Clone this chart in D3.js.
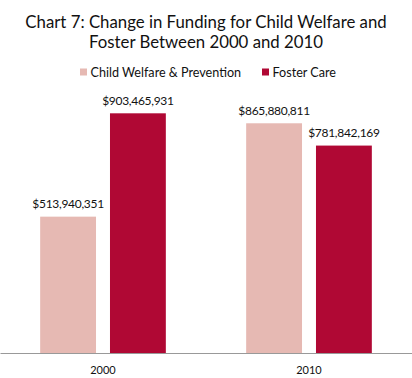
<!DOCTYPE html>
<html><head><meta charset="utf-8">
<script src="https://cdn.jsdelivr.net/npm/d3@7"></script>
<style>body{margin:0;background:#fff}svg{display:block}text{font-family:"Futura","Century Gothic",Lato,sans-serif;fill:#111}</style>
</head><body><svg id="c" width="412" height="378"></svg>
<script>
const years = ["2000", "2010"];
const seriesNames = ["Child Welfare & Prevention", "Foster Care"];
const childWelfare = [513940351, 865880811];
const fosterCare = [903465931, 781842169];
const colors = ["#e6b9b3", "#b00834"];
const titleLines = ["Chart 7: Change in Funding for Child Welfare and", "Foster Between 2000 and 2010"];

const W = 412, H = 378, baseY = 353;
const svg = d3.select("#c");
const values = [childWelfare, fosterCare];
const x0 = d3.scaleBand().domain(years).range([0, W]).paddingInner(0.39).paddingOuter(0.195);
const x1 = d3.scaleBand().domain(seriesNames).range([0, x0.bandwidth()]).paddingInner(0.2).paddingOuter(0);
const y = d3.scaleLinear().domain([0, 1e9]).range([baseY, baseY - 265.3]);

svg.selectAll("text.title").data(titleLines).join("text").attr("class","title")
  .attr("x", W/2).attr("y", (d,i)=>28+i*19.5).attr("text-anchor","middle")
  .style("font-size","16.8px").text(d=>d);

// legend
const leg = svg.append("g");
const legX = [80, 262];
seriesNames.forEach((s,i)=>{
  leg.append("rect").attr("x",legX[i]).attr("y",68.5).attr("width",7).attr("height",7).attr("fill",colors[i]);
  leg.append("text").attr("x",legX[i]+10.5).attr("y",76.5).style("font-size","12.6px").text(s);
});

const g = svg.selectAll("g.grp").data(years).join("g").attr("class","grp")
  .attr("transform", d=>`translate(${x0(d)},0)`);
g.selectAll("rect").data((d,i)=>seriesNames.map((s,j)=>({s, v: values[j][i], j})))
  .join("rect").attr("x", d=>x1(d.s)).attr("width", x1.bandwidth())
  .attr("y", d=>y(d.v)).attr("height", d=>baseY - y(d.v)).attr("fill", d=>colors[d.j]);
g.selectAll("text.val").data((d,i)=>seriesNames.map((s,j)=>({s, v: values[j][i], j})))
  .join("text").attr("class","val").attr("x", d=>x1(d.s)+x1.bandwidth()/2).attr("y", d=>y(d.v)-8.5)
  .attr("text-anchor","middle").style("font-size","12px").style("letter-spacing","-0.3px")
  .text(d=>"$"+d3.format(",")(d.v));

const ax = d3.axisBottom(x0).tickSize(0).tickPadding(13);
const axg = svg.append("g").attr("transform",`translate(0,${baseY})`).call(ax);
axg.select(".domain").attr("stroke","#999").attr("stroke-width",1);
axg.selectAll("text").style("font-size","11px").style("font-family",'"Futura","Century Gothic",Lato,sans-serif').attr("fill","#111");
</script></body></html>
